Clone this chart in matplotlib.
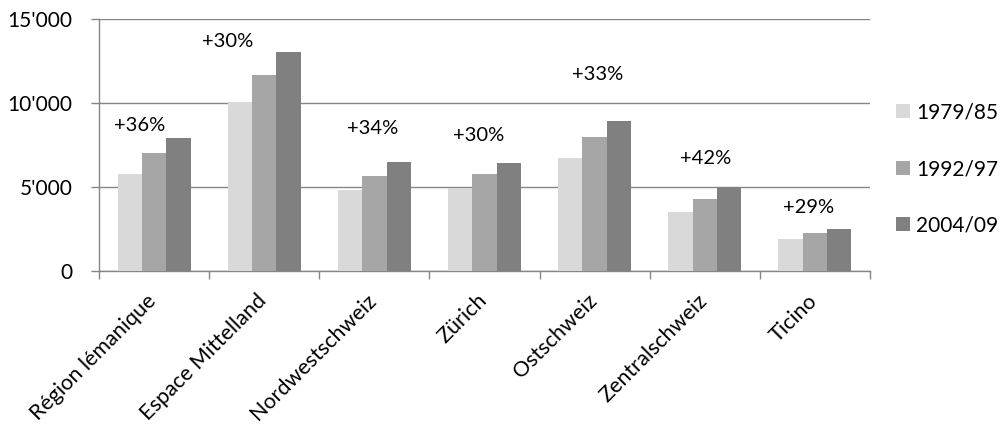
import matplotlib.pyplot as plt
import matplotlib.transforms as mtransforms
import numpy as np

# ── Data ──────────────────────────────────────────────────────────────────────
REGIONS = ["Région lémanique", "Espace Mittelland", "Nordwestschweiz", "Zürich",
           "Ostschweiz", "Zentralschweiz", "Ticino"]
PERIODS = ["1979/85", "1992/97", "2004/09"]

V_1979 = [5800, 10050, 4820, 4960, 6730, 3530, 1920]
V_1992 = [7000, 11690, 5650, 5790, 7960, 4290, 2280]
V_2004 = [7900, 13050, 6470, 6450, 8950, 5020, 2480]

# growth-label placement (data units / category offsets)
LABEL_Y = [8690, 13650, 8490, 8040, 11670, 6670, 3770]
LABEL_DX = [-0.13, -0.33, -0.02, -0.05, 0.03, 0.01, -0.06]

COLORS = ["#D9D9D9", "#A6A6A6", "#808080"]
GRID = "#868686"

plt.rcParams["font.family"] = ["Lato", "DejaVu Sans"]
FS = 15

# ── Plot ──────────────────────────────────────────────────────────────────────
fig = plt.figure(figsize=(10, 4.28), dpi=100)
ax = fig.add_axes([0.099, 0.3668, 0.771, 0.5888])

x = np.arange(len(REGIONS))
w = 0.221
for i, (vals, lab) in enumerate(zip([V_1979, V_1992, V_2004], PERIODS)):
    ax.bar(x + (i - 1) * w, vals, width=w, color=COLORS[i], label=lab, zorder=3)

for xi, a, b, ly, dx in zip(x, V_1979, V_2004, LABEL_Y, LABEL_DX):
    pct = round((b / a - 1) * 100)
    ax.text(xi + dx, ly, f"+{pct}%", ha="center", va="center", fontsize=14.5)

ax.set_xlim(-0.5, len(REGIONS) - 0.5)
ax.set_ylim(0, 15000)
ax.set_yticks([0, 5000, 10000, 15000])
ax.set_yticklabels([f"{v:,}".replace(",", "'") for v in [0, 5000, 10000, 15000]],
                   fontsize=FS)
ax.yaxis.grid(True, color=GRID, linewidth=1.0, zorder=0)

# category boundaries get the ticks, names sit at the group centres
ax.set_xticks(np.arange(len(REGIONS) + 1) - 0.5)
ax.set_xticklabels([])
ax.set_xticks(x, minor=True)
ax.set_xticklabels(REGIONS, minor=True, rotation=45, ha="right",
                   rotation_mode="anchor", fontsize=15.5)
ax.tick_params(axis="x", which="major", length=6, color=GRID, width=1)
ax.tick_params(axis="x", which="minor", length=0, pad=14)
ax.tick_params(axis="y", length=6, color=GRID, width=1, pad=13)

# nudge the slanted names a little to the left
shift = mtransforms.ScaledTranslation(-8 / 100, 0, fig.dpi_scale_trans)
for lbl in ax.get_xticklabels(minor=True):
    lbl.set_transform(lbl.get_transform() + shift)

for s in ["top", "right"]:
    ax.spines[s].set_visible(False)
for s in ["left", "bottom"]:
    ax.spines[s].set_color(GRID)
    ax.spines[s].set_linewidth(1.0)

fig.legend(loc="center left", bbox_to_anchor=(0.896, 0.605), frameon=False,
           fontsize=FS, borderpad=0, borderaxespad=0, handlelength=0.67,
           handleheight=0.67, handletextpad=0.3, labelspacing=1.75)

fig.savefig("out.png", dpi=100)
